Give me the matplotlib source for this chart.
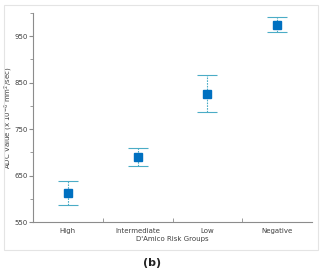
import matplotlib
matplotlib.use("Agg")
import matplotlib.pyplot as plt
from matplotlib.patches import Rectangle
from matplotlib.ticker import MultipleLocator

groups = ["High", "Intermediate", "Low", "Negative"]
adc_mean = [612, 691, 825, 974]
adc_upper = [638, 709, 866, 991]
adc_lower = [587, 671, 786, 959]

err_low = [m - l for m, l in zip(adc_mean, adc_lower)]
err_high = [u - m for m, u in zip(adc_mean, adc_upper)]

fig = plt.figure(figsize=(3.24, 2.71), dpi=100)
fig.patches.append(Rectangle((4 / 324, 1 - 250 / 271), 314 / 324, 245 / 271,
                             transform=fig.transFigure, fill=False,
                             edgecolor="#e4e4e4", linewidth=0.8))
ax = fig.add_axes([33 / 324, 1 - 222 / 271, 279 / 324, 209 / 271])

x = range(len(groups))
eb = ax.errorbar(x, adc_mean, yerr=[err_low, err_high], fmt="s", color="#0070c0",
                 markersize=5.5, ecolor="#4bacc6", elinewidth=0.8, capsize=7,
                 capthick=0.8)
for line in eb[2]:
    line.set_linestyle((0, (1.5, 1)))

ax.set_xlim(-0.5, 3.5)
ax.set_ylim(550, 1000)
ax.yaxis.set_major_locator(MultipleLocator(100))
ax.yaxis.set_minor_locator(MultipleLocator(50))
ax.set_yticks([550, 650, 750, 850, 950])
ax.set_xticks(list(x))
ax.set_xticklabels(groups)
ax.set_xticks([0.5, 1.5, 2.5], minor=True)

for side in ["top", "right"]:
    ax.spines[side].set_visible(False)
for side in ["left", "bottom"]:
    ax.spines[side].set_color("#8c8c8c")
    ax.spines[side].set_linewidth(0.8)
ax.tick_params(axis="x", which="major", length=0, labelsize=5, colors="#404040", pad=4)
ax.tick_params(axis="x", which="minor", length=3, color="#8c8c8c", direction="in")
ax.tick_params(axis="y", which="both", length=3, color="#8c8c8c", labelsize=5,
               labelcolor="#404040", direction="out", pad=1)
ax.tick_params(axis="y", which="minor", length=2)

ax.set_xlabel("D'Amico Risk Groups", fontsize=5, color="#404040", labelpad=2)
ax.set_ylabel("ADC Value (x 10$^{-6}$ mm$^{2}$/sec)", fontsize=5, color="#404040",
              va="center")
ax.yaxis.set_label_coords(-0.088, 0.5)

fig.text(152 / 324, 1 - 263 / 271, "(b)", fontsize=8, fontweight="bold",
         ha="center", va="center", color="#222222")

fig.savefig("out.png", dpi=100)
